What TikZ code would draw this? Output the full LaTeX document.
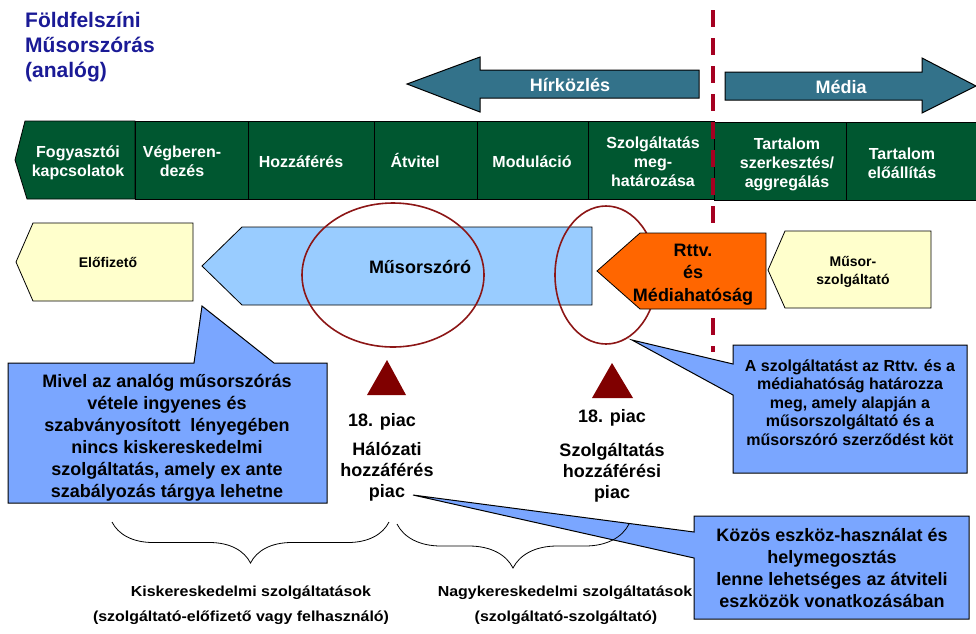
\documentclass[tikz,border=0pt]{standalone}
\usepackage{fontspec}
\setmainfont{Liberation Sans}
\newfontfamily\widesans[FakeStretch=1.1]{Liberation Sans}
\usetikzlibrary{decorations.pathreplacing}
\definecolor{titleblue}{RGB}{26,26,150}
\definecolor{bargreen}{RGB}{0,87,48}
\definecolor{arrowteal}{RGB}{51,114,138}
\definecolor{dashred}{RGB}{165,0,33}
\definecolor{ringred}{RGB}{140,22,22}
\definecolor{pinred}{RGB}{128,0,0}
\definecolor{paleyellow}{RGB}{255,255,204}
\definecolor{paleblue}{RGB}{153,204,255}
\definecolor{noteblue}{RGB}{122,166,255}
\definecolor{authorange}{RGB}{255,102,0}

\begin{document}
\begin{tikzpicture}[x=1pt,y=-1pt,
    bar/.style={draw=black,fill=bargreen,line width=0.8pt},
    barlbl/.style={anchor=base,align=center,inner sep=0pt,text=white,font=\fontsize{16}{19}\selectfont\bfseries},
    player/.style={draw=black,line width=0.8pt},
    note/.style={draw=black,fill=noteblue,line width=1pt},
    lbl/.style={anchor=base,align=center,inner sep=0pt,font=\fontsize{18}{21}\selectfont\bfseries},
    foot/.style={anchor=base,inner sep=0pt,font=\widesans\fontsize{14.5}{17}\selectfont\bfseries}]
  \useasboundingbox (0,0) rectangle (976,633);

  % base anchor of a multi-line node = baseline of its last line
  \node[anchor=base west,align=left,inner sep=0pt,text=titleblue,font=\fontsize{21}{25}\selectfont\bfseries] (title) at (25,77) {Földfelszíni\\Műsorszórás\\(analóg)};

  % top arrows
  \draw[fill=arrowteal,line width=1pt] (407,84) -- (480,57) -- (480,70) -- (699,70) -- (699,98) -- (480,98) -- (480,112) -- cycle;
  \draw[fill=arrowteal,line width=1pt] (725,72) -- (922,72) -- (922,58) -- (976,86) -- (922,113) -- (922,100) -- (725,100) -- cycle;
  \node[anchor=base,inner sep=0pt,text=white,font=\fontsize{18}{21}\selectfont\bfseries] (hirkozles) at (570,91) {Hírközlés};
  \node[anchor=base,inner sep=0pt,text=white,font=\fontsize{18}{21}\selectfont\bfseries] (media) at (841,93) {Média};

  % value chain
  \draw[bar] (15,160) -- (25,121) -- (135,121) -- (135,199) -- (27,199) -- cycle;
  \draw[bar] (135,121) rectangle (248,199);
  \draw[bar] (248,121) rectangle (374,199);
  \draw[bar] (374,121) rectangle (477,199);
  \draw[bar] (477,121) rectangle (588,199);
  \draw[bar] (588,121) rectangle (714,199);
  \draw[bar] (714,122) rectangle (846,200);
  \draw[bar] (846,122) rectangle (980,200);
  \node[barlbl] (fogyasztoi) at (78,176) {Fogyasztói\\kapcsolatok};
  \node[barlbl] (vegberendezes) at (182,176) {Végberen-\\dezés};
  \node[barlbl] (hozzaferes) at (301,167) {Hozzáférés};
  \node[barlbl] (atvitel) at (415,167) {Átvitel};
  \node[barlbl] (modulacio) at (532,167) {Moduláció};
  \node[barlbl] (szolgmeg) at (653,186) {Szolgáltatás\\meg-\\határozása};
  \node[barlbl] (szerkesztes) at (787,187) {Tartalom\\szerkesztés/\\aggregálás};
  \node[barlbl] (eloallitas) at (902,178) {Tartalom\\előállítás};

  \draw[dashred,line width=4.5pt,dash pattern=on 17pt off 11pt] (713,10) -- (713,352);

  % actors
  \draw[player,fill=paleyellow] (16,262) -- (33,223) -- (193,223) -- (193,301) -- (33,301) -- cycle;
  \node[anchor=base,inner sep=0pt,font=\fontsize{14}{18}\selectfont\bfseries] (elofizeto) at (108,267) {Előfizető};
  \draw[player,fill=paleblue] (202,266) -- (242,227) -- (592,227) -- (592,305) -- (242,305) -- cycle;
  \node[anchor=base,inner sep=0pt,font=\fontsize{18}{21}\selectfont\bfseries] (musorszoro) at (420,273) {Műsorszóró};
  \draw[ringred,line width=1.6pt] (393,275) ellipse [x radius=91,y radius=72];
  \draw[ringred,line width=1.6pt] (606,275) ellipse [x radius=51,y radius=69];
  \draw[player,fill=authorange] (597,271) -- (640,233) -- (766,233) -- (766,309) -- (640,309) -- cycle;
  \node[anchor=base,align=center,inner sep=0pt,font=\fontsize{18}{22.5}\selectfont\bfseries] (rttv) at (693,301) {Rttv.\\és\\Médiahatóság};
  \draw[player,fill=paleyellow] (768,270) -- (785,231) -- (931,231) -- (931,308) -- (785,308) -- cycle;
  \node[anchor=base,align=center,inner sep=0pt,font=\fontsize{14}{18}\selectfont\bfseries] (musorszolg) at (853,284) {Műsor-\\szolgáltató};

  % markets
  \fill[pinred] (367,395) -- (387,360) -- (406,395) -- cycle;
  \fill[pinred] (592,398) -- (612,363) -- (633,398) -- cycle;
  \node[lbl] (piac1) at (382,426) {18. piac};
  \node[lbl] (halozati) at (387,497) {Hálózati\\hozzáférés\\piac};
  \node[lbl] (piac2) at (612,422) {18. piac};
  \node[lbl] (szolghozz) at (612,498) {Szolgáltatás\\hozzáférési\\piac};

  % callouts
  \draw[note] (8,363) -- (194,363) -- (202,306) -- (274,363) -- (327,363) -- (327,503) -- (8,503) -- cycle;
  \node[lbl,font=\fontsize{18}{22}\selectfont\bfseries] (mivel) at (167,497) {Mivel az analóg műsorszórás\\vétele ingyenes és\\szabványosított\ \ lényegében\\nincs kiskereskedelmi\\szolgáltatás, amely ex ante\\szabályozás tárgya lehetne};
  \draw[note] (733,345) -- (967,345) -- (967,473) -- (733,473) -- (733,395) -- (632,340) -- (733,364) -- cycle;
  \node[lbl,font=\fontsize{16}{18.5}\selectfont\bfseries] (rttvnote) at (850,445) {A szolgáltatást az Rttv. és a\\médiahatóság határozza\\meg, amely alapján a\\műsorszolgáltató és a\\műsorszóró szerződést köt};
  \draw[note] (694,516) -- (969,516) -- (969,619) -- (694,619) -- (694,558) -- (413,495) -- (694,532) -- cycle;
  \node[lbl,font=\fontsize{18}{22}\selectfont\bfseries] (kozos) at (832,607) {Közös eszköz-használat és\\helymegosztás\\lenne lehetséges az átviteli\\eszközök vonatkozásában};

  % braces
  \draw[decorate,decoration={brace,mirror,amplitude=41pt},line width=0.8pt] (112,522) -- (389,522);
  \draw[decorate,decoration={brace,mirror,amplitude=44pt},line width=0.8pt] (397,524) -- (629,524);
  \node[foot] (kisker) at (251,596) {Kiskereskedelmi szolgáltatások};
  \node[foot] (kiskerpar) at (241,621) {(szolgáltató-előfizető vagy felhasználó)};
  \node[foot] (nagyker) at (565,596) {Nagykereskedelmi szolgáltatások};
  \node[foot] (nagykerpar) at (566,621) {(szolgáltató-szolgáltató)};
\end{tikzpicture}
\end{document}
